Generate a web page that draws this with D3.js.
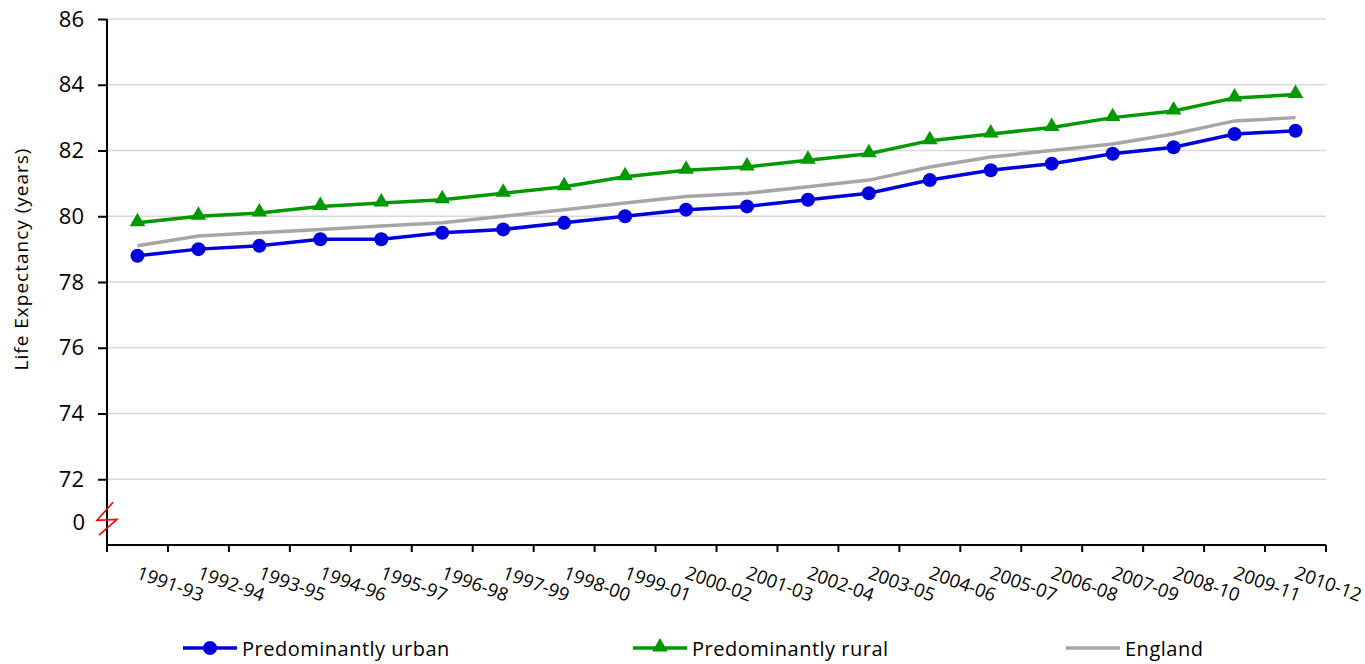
<!DOCTYPE html>
<html><head><meta charset="utf-8">
<script src="https://cdn.jsdelivr.net/npm/d3@7"></script>
<style>body{margin:0;background:#fff;} svg{display:block;font-family:"Open Sans", sans-serif;}</style>
</head><body><svg id="c" width="1365" height="664"></svg>
<script>
const categories = ["1991-93","1992-94","1993-95","1994-96","1995-97","1996-98","1997-99","1998-00","1999-01","2000-02","2001-03","2002-04","2003-05","2004-06","2005-07","2006-08","2007-09","2008-10","2009-11","2010-12"];
const urban   = [78.8,79.0,79.1,79.3,79.3,79.5,79.6,79.8,80.0,80.2,80.3,80.5,80.7,81.1,81.4,81.6,81.9,82.1,82.5,82.6];
const rural   = [79.8,80.0,80.1,80.3,80.4,80.5,80.7,80.9,81.2,81.4,81.5,81.7,81.9,82.3,82.5,82.7,83.0,83.2,83.6,83.7];
const england = [79.1,79.4,79.5,79.6,79.7,79.8,80.0,80.2,80.4,80.6,80.7,80.9,81.1,81.5,81.8,82.0,82.2,82.5,82.9,83.0];
const yTicks = [72,74,76,78,80,82,84,86];
const yTitle = "Life Expectancy (years)";
const seriesNames = ["Predominantly urban","Predominantly rural","England"];

const svg = d3.select("#c");
const L = 107, R = 1326, T = 19, B = 545;
const x = d3.scaleBand().domain(categories).range([L, R]);
const y = d3.scaleLinear().domain([70, 86]).range([B, T]);
const cx = d => x(d) + x.bandwidth()/2;

// gridlines
svg.append("g").selectAll("line").data(yTicks).join("line")
  .attr("x1", L).attr("x2", R).attr("y1", d=>y(d)).attr("y2", d=>y(d))
  .attr("stroke", "#d9d9d9").attr("stroke-width", 1.5);

// y axis
const ya = svg.append("g").attr("transform", `translate(${L},0)`)
  .call(d3.axisLeft(y).tickValues(yTicks).tickSize(9).tickFormat(""));
ya.select(".domain").attr("stroke", "#000").attr("stroke-width", 2).attr("d", `M0,${T}V${B}`);
ya.selectAll(".tick line").attr("stroke", "#000").attr("stroke-width", 2);
svg.append("g").selectAll("text").data(yTicks).join("text")
  .attr("x", 84).attr("y", d => y(d)).attr("dy", "0.35em").attr("text-anchor", "end")
  .attr("font-size", 22).attr("fill", "#000").text(d3.format("d"));
// "0" label below break
svg.append("text").attr("x", 85).attr("y", y(70.7)).attr("dy", "0.35em")
  .attr("text-anchor", "end").attr("font-size", 22).text("0");
// break squiggle
svg.append("path")
  .attr("d", `M${L+6},${y(71.3)} L${L-10},${y(70.75)} L${L+10},${y(70.78)} L${L-8},${y(70.3)}`)
  .attr("fill", "none").attr("stroke", "#ff0000").attr("stroke-width", 1.6);

// x axis
const xa = svg.append("g").attr("transform", `translate(0,${B})`)
  .call(d3.axisBottom(x).tickSize(0).tickFormat(""));
xa.select(".domain").attr("stroke", "#000").attr("stroke-width", 2).attr("d", `M${L},0H${R}`);
const bounds = categories.map(c => x(c)).concat([R]);
svg.append("g").selectAll("line").data(bounds).join("line")
  .attr("x1", d=>d).attr("x2", d=>d).attr("y1", B).attr("y2", B+7)
  .attr("stroke", "#000").attr("stroke-width", 2);
svg.append("g").selectAll("text").data(categories).join("text")
  .attr("transform", d => `translate(${cx(d)-2},${B+33}) rotate(20)`)
  .attr("font-size", 18.5).attr("fill", "#000").text(d => d);

// y title
svg.append("text").attr("transform", `translate(28,${259}) rotate(-90)`)
  .attr("text-anchor", "middle").attr("font-size", 19).attr("letter-spacing", 1).text(yTitle);

const line = d3.line().x((d,i) => cx(categories[i])).y(d => y(d));
// England
svg.append("path").datum(england).attr("d", line).attr("fill","none").attr("stroke","#a6a6a6").attr("stroke-width",3.5);
// urban
svg.append("path").datum(urban).attr("d", line).attr("fill","none").attr("stroke","#0000dd").attr("stroke-width",3.5);
svg.append("g").selectAll("circle").data(urban).join("circle")
  .attr("cx",(d,i)=>cx(categories[i])).attr("cy", d=>y(d)).attr("r",7).attr("fill","#0000dd");
// rural
svg.append("path").datum(rural).attr("d", line).attr("fill","none").attr("stroke","#009900").attr("stroke-width",3.5);
const tri = d3.symbol().type(d3.symbolTriangle).size(105);
svg.append("g").selectAll("path").data(rural).join("path")
  .attr("transform",(d,i)=>`translate(${cx(categories[i])},${y(d)-1})`).attr("d", tri).attr("fill","#009900");

// legend
const leg = [
  {name: seriesNames[0], color:"#0000dd", x1:183, mark:"circle"},
  {name: seriesNames[1], color:"#009900", x1:633, mark:"tri"},
  {name: seriesNames[2], color:"#a6a6a6", x1:1066, mark:null}
];
const ly = 648;
leg.forEach(l => {
  svg.append("line").attr("x1", l.x1).attr("x2", l.x1+54).attr("y1", ly).attr("y2", ly)
    .attr("stroke", l.color).attr("stroke-width", 3.5);
  if (l.mark === "circle") svg.append("circle").attr("cx", l.x1+27).attr("cy", ly).attr("r",7).attr("fill", l.color);
  if (l.mark === "tri") svg.append("path").attr("transform", `translate(${l.x1+27},${ly-1})`).attr("d", tri).attr("fill", l.color);
  svg.append("text").attr("x", l.x1+59).attr("y", ly+1).attr("dy","0.35em").attr("font-size", 20)
    .attr("letter-spacing", 0.5).text(l.name);
});
</script></body></html>
